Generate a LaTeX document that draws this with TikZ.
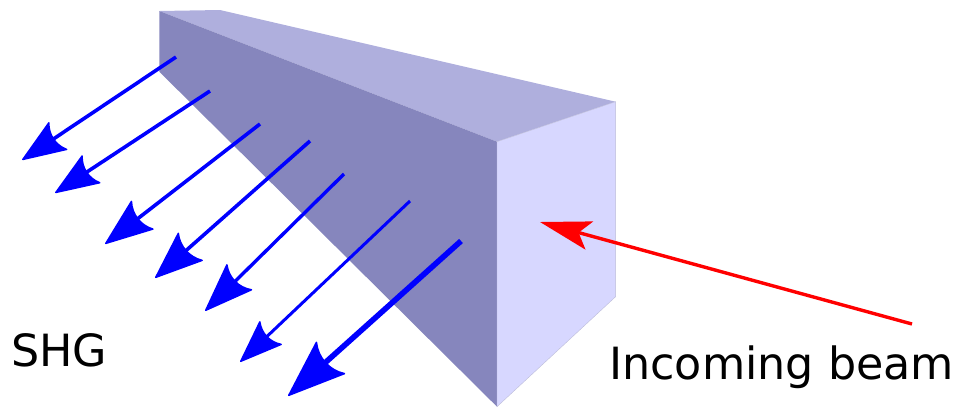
\documentclass[tikz,border=0pt]{standalone}
\usepackage{fontspec}
\usepackage{xcolor}
\usetikzlibrary{arrows.meta}
\setmainfont{DejaVu Sans}
\definecolor{prismtop}{HTML}{AFAFDD}
\definecolor{prismback}{HTML}{8686BD}
\definecolor{prismfront}{HTML}{D7D7FF}
\pgfdeclarearrow{
    name=BeamHead,
    parameters={\the\pgfarrowlength,\the\pgfarrowwidth},
    setup code={
        \pgfarrowssettipend{0pt}
        \pgfarrowssetbackend{-\pgfarrowlength}
        \pgfarrowssetlineend{-0.85\pgfarrowlength}
        \pgfarrowssavethe\pgfarrowlength
        \pgfarrowssavethe\pgfarrowwidth
    },
    drawing code={
        \pgfsetlinewidth{1.5pt}
        \pgfsetroundjoin
        \pgfpathmoveto{\pgfqpoint{-\pgfarrowlength}{0.5\pgfarrowwidth}}
        \pgfpathlineto{\pgfqpoint{-1pt}{0pt}}
        \pgfpathlineto{\pgfqpoint{-\pgfarrowlength}{-0.5\pgfarrowwidth}}
        \pgfpathcurveto{\pgfqpoint{-0.84\pgfarrowlength}{-0.2\pgfarrowwidth}}
                       {\pgfqpoint{-0.84\pgfarrowlength}{0.2\pgfarrowwidth}}
                       {\pgfqpoint{-\pgfarrowlength}{0.5\pgfarrowwidth}}
        \pgfpathclose
        \pgfusepathqfillstroke
    },
    defaults={length=40pt,width=30pt}
}
\tikzset{
    beamlabel/.style={inner sep=0pt,anchor=base west,font=\fontsize{44.4pt}{44.4pt}\selectfont},
}

\begin{document}
\begin{tikzpicture}[x=1pt,y=-1pt]
    \useasboundingbox (0,0) rectangle (956,408);
    \coordinate (tl) at (159.3,11);
    \coordinate (tr) at (220,10);
    \coordinate (bl) at (159.3,71.7);
    \coordinate (apex) at (497,141.7);
    \coordinate (foot) at (497,406.7);
    \coordinate (far) at (615.6,101.7);
    \coordinate (farfoot) at (615.6,296.7);
    \fill[prismtop] (tl) -- (tr) -- (far) -- (apex) -- cycle;
    \fill[prismback] (tl) -- (apex) -- (foot) -- (bl) -- cycle;
    \filldraw[fill=prismfront,draw=prismfront!70!gray,line width=0.4pt] (foot) -- (apex) -- (far) -- (farfoot) -- cycle;
    \foreach \tx/\ty/\hx/\hy/\lw/\hlen/\hwid in {
        176/57/22/160/3.6/43/32,
        210/91/55/193/3.6/43/32,
        260/124/105/244/3.6/47/35,
        310/141/155/278/3.6/47/36,
        344/174/205/311/3.4/48/35,
        410/201/240/362/3/42/31,
        461/241/288/396/5.6/57/42}
    {
        \coordinate (shgstart) at (\tx,\ty);
        \coordinate (shgend) at (\hx,\hy);
        \draw[blue,line width=\lw pt,-{BeamHead[length=\hlen pt,width=\hwid pt]}] (shgstart) -- (shgend);
    }
    \coordinate (beamstart) at (912,324);
    \coordinate (beamend) at (540,222);
    \draw[red,line width=3.4pt,-{Stealth[length=51pt,width=29pt,inset=11pt]}] (beamstart) -- (beamend);
    \node[beamlabel] (shg) at (11,366) {SHG};
    \node[beamlabel] (incoming) at (609,379) {Incoming beam};
\end{tikzpicture}
\end{document}
